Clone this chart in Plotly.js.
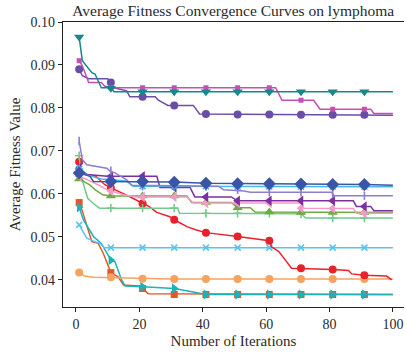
<!DOCTYPE html>
<html>
<head>
<meta charset="utf-8">
<script src="https://cdn.plot.ly/plotly-3.0.1.min.js"></script>
<style>
html,body{margin:0;padding:0;background:#fff;}
#chart{width:407px;height:356px;}
</style>
</head>
<body>
<div id="chart"></div>
<script>
// ---- data ----
var markIter = [1, 11, 21, 31, 41, 51, 61, 71, 81, 91];

// S1 teal, triangle-down
var s1x = [1, 2, 5, 6, 8, 11, 12, 100];
var s1y = [0.0965, 0.0910, 0.0882, 0.0879, 0.0847, 0.0847, 0.0838, 0.0838];
var s1m = [0.0965, 0.0846, 0.0838, 0.0838, 0.0838, 0.0838, 0.0838, 0.0838, 0.0838, 0.0838];

// S2 magenta, small square
var s2x = [1, 2, 4, 8, 9, 11, 63, 65, 75, 77, 93, 94, 100];
var s2y = [0.0910, 0.0898, 0.0859, 0.0859, 0.0851, 0.0847, 0.0847, 0.0818, 0.0818, 0.0797, 0.0797, 0.0787, 0.0787];
var s2m = [0.0910, 0.0847, 0.0847, 0.0847, 0.0847, 0.0847, 0.0847, 0.0818, 0.0797, 0.0797];

// S3 purple, circle
var s3x = [1, 2, 4, 10, 11, 12, 16, 17, 25, 26, 29, 37, 39, 100];
var s3y = [0.0890, 0.0875, 0.0868, 0.0868, 0.0859, 0.0847, 0.0840, 0.0826, 0.0826, 0.0818, 0.0806, 0.0806, 0.0786, 0.0783];
var s3m = [0.0890, 0.0859, 0.0826, 0.0806, 0.0786, 0.0785, 0.0785, 0.0784, 0.0784, 0.0784];

// S4 lavender, vertical tick
var s4x = [1, 2, 3.4, 9.7, 10.7, 12.3, 16, 17.6, 45, 46.5, 53, 55, 80.6, 81.5, 100];
var s4y = [0.0723, 0.0680, 0.0668, 0.0660, 0.0653, 0.0649, 0.0633, 0.0620, 0.0618, 0.0610, 0.0607, 0.0604, 0.0604, 0.0596, 0.0596];
var s4m = [0.0723, 0.0654, 0.0620, 0.0619, 0.0618, 0.0610, 0.0604, 0.0604, 0.0600, 0.0596];

// S5 blue, diamond
var s5x = [1, 4.4, 5.5, 31, 41, 60, 91, 100];
var s5y = [0.0649, 0.0641, 0.0629, 0.0628, 0.0625, 0.0624, 0.0622, 0.0620];
var s5m = [0.0649, 0.0629, 0.0629, 0.0627, 0.0625, 0.0624, 0.0624, 0.0623, 0.0622, 0.0622];

// S6 light blue, asterisk
var s6x = [1, 3, 8, 16, 18, 100];
var s6y = [0.0658, 0.0645, 0.0635, 0.0630, 0.0618, 0.0617];
var s6m = [0.0658, 0.0632, 0.0618, 0.0618, 0.0618, 0.0617, 0.0617, 0.0617, 0.0617, 0.0617];

// S7 dark purple, triangle-left
var s7x = [1, 3.4, 10, 25.5, 26.5, 36, 37.5, 49, 51, 87.5, 88.5, 93, 94, 100];
var s7y = [0.0660, 0.0645, 0.0641, 0.0641, 0.0615, 0.0615, 0.0593, 0.0593, 0.0584, 0.0584, 0.0571, 0.0571, 0.0561, 0.0561];
var s7m = [0.0660, 0.0641, 0.0641, 0.0615, 0.0593, 0.0584, 0.0584, 0.0584, 0.0584, 0.0571];

// S8 pink, triangle-left
var s8x = [1, 3, 7.6, 9.7, 15, 19, 35, 37, 70.8, 72, 87.5, 88.5, 100];
var s8y = [0.0641, 0.0635, 0.0619, 0.0610, 0.0598, 0.0593, 0.0593, 0.0579, 0.0579, 0.0567, 0.0566, 0.0555, 0.0555];
var s8m = [0.0641, 0.0607, 0.0593, 0.0593, 0.0579, 0.0579, 0.0579, 0.0567, 0.0566, 0.0555];

// S9 green, triangle-up
var s9x = [1, 4.2, 6, 8.4, 11, 35, 36.5, 49, 51, 55, 56.5, 100];
var s9y = [0.0635, 0.0622, 0.0610, 0.0598, 0.0595, 0.0595, 0.0580, 0.0580, 0.0568, 0.0568, 0.0558, 0.0557];
var s9m = [0.0635, 0.0595, 0.0595, 0.0595, 0.0580, 0.0568, 0.0558, 0.0557, 0.0557, 0.0557];

// S10 light green, cross
var s10x = [1, 1.6, 3.7, 5.3, 7.4, 32, 32.7, 71, 72.5, 100];
var s10y = [0.0689, 0.0641, 0.0590, 0.0579, 0.0567, 0.0567, 0.0555, 0.0554, 0.0544, 0.0544];
var s10m = [0.0689, 0.0567, 0.0567, 0.0567, 0.0555, 0.0555, 0.0555, 0.0554, 0.0544, 0.0544];

// S11 red, circle
var s11x = [1, 1.6, 6.3, 9, 11, 13.7, 15.8, 17.9, 21, 23, 25.5, 29.6, 31, 35, 38, 41, 51, 61, 61.7, 64, 66.5, 68, 81, 86, 87, 91, 98, 99.6];
var s11y = [0.0675, 0.0649, 0.0641, 0.0622, 0.0614, 0.0606, 0.0598, 0.0590, 0.0578, 0.0571, 0.0557, 0.0547, 0.0540, 0.0524, 0.0516, 0.0510, 0.0501, 0.0491, 0.0477, 0.0466, 0.0442, 0.0427, 0.0424, 0.0422, 0.0414, 0.0411, 0.0409, 0.0400];
var s11m = [0.0675, 0.0614, 0.0578, 0.0540, 0.0510, 0.0501, 0.0491, 0.0427, 0.0424, 0.0411];

// S12 sky blue, x
var s12x = [1, 2.3, 3.4, 6, 7.6, 9, 100];
var s12y = [0.0528, 0.0512, 0.0497, 0.0489, 0.0485, 0.0475, 0.0475];
var s12m = [0.0528, 0.0475, 0.0475, 0.0475, 0.0475, 0.0475, 0.0475, 0.0475, 0.0475, 0.0475];

// S13 orange, circle
var s13x = [1, 2.8, 5.5, 21, 30, 100];
var s13y = [0.0417, 0.0409, 0.0406, 0.0403, 0.0402, 0.0402];
var s13m = [0.0417, 0.0406, 0.0403, 0.0402, 0.0402, 0.0402, 0.0402, 0.0402, 0.0402, 0.0402];

// S14 orange-red, square
var s14x = [1, 2, 5, 7, 8.6, 11, 13.3, 15, 20, 21, 22.8, 100];
var s14y = [0.0580, 0.0560, 0.0489, 0.0485, 0.0462, 0.0417, 0.0407, 0.0388, 0.0386, 0.0380, 0.0368, 0.0366];
var s14m = [0.0580, 0.0417, 0.0380, 0.0366, 0.0366, 0.0366, 0.0366, 0.0366, 0.0366, 0.0366];

// S15 cyan, triangle-right
var s15x = [1, 2.3, 5.5, 8, 11, 12.3, 14.4, 15.5, 21, 31, 37, 41, 100];
var s15y = [0.0569, 0.0540, 0.0501, 0.0485, 0.0446, 0.0442, 0.0400, 0.0386, 0.0384, 0.0380, 0.0372, 0.0366, 0.0366];
var s15m = [0.0569, 0.0446, 0.0384, 0.0380, 0.0366, 0.0366, 0.0366, 0.0366, 0.0366, 0.0366];

var xTicks = [0, 20, 40, 60, 80, 100];
var yTicks = [0.04, 0.05, 0.06, 0.07, 0.08, 0.09, 0.10];
var yTickText = ['0.04', '0.05', '0.06', '0.07', '0.08', '0.09', '0.10'];

// ---- styles ----
var series = [
  {x: s14x, y: s14y, m: s14m, color: '#e0592b', sym: 'square', size: 7},
  {x: s15x, y: s15y, m: s15m, color: '#1fb1b8', sym: 'triangle-right', size: 9},
  {x: s13x, y: s13y, m: s13m, color: '#f5a35f', sym: 'circle', size: 8},
  {x: s12x, y: s12y, m: s12m, color: '#5cc3ee', sym: 'x-thin-open', size: 6, open: true},
  {x: s11x, y: s11y, m: s11m, color: '#e8222a', sym: 'circle', size: 8},
  {x: s10x, y: s10y, m: s10m, color: '#74c98c', sym: 'cross-thin-open', size: 6, open: true},
  {x: s9x, y: s9y, m: s9m, color: '#6bab3f', sym: 'triangle-up', size: 9},
  {x: s8x, y: s8y, m: s8m, color: '#f39bc8', sym: 'triangle-left', size: 9},
  {x: s7x, y: s7y, m: s7m, color: '#7b30a2', sym: 'triangle-left', size: 9},
  {x: s6x, y: s6y, m: s6m, color: '#48b6e6', sym: 'asterisk-open', size: 7, open: true},
  {x: s4x, y: s4y, m: s4m, color: '#8b7fd0', sym: 'line-ns-open', size: 6, open: true},
  {x: s5x, y: s5y, m: s5m, color: '#3a55a5', sym: 'diamond', size: 10},
  {x: s3x, y: s3y, m: s3m, color: '#6a4ea6', sym: 'circle', size: 8},
  {x: s2x, y: s2y, m: s2m, color: '#c44fb5', sym: 'square', size: 5},
  {x: s1x, y: s1y, m: s1m, color: '#17878b', sym: 'triangle-down', size: 9}
];

var traces = [];
series.forEach(function (s) {
  traces.push({
    type: 'scatter', mode: 'lines', x: s.x, y: s.y,
    line: {color: s.color, width: 1.5}, hoverinfo: 'skip', showlegend: false
  });
  var mk = {symbol: s.sym, size: s.size, color: s.color};
  if (s.open) { mk.line = {color: s.color, width: 1.6}; }
  traces.push({
    type: 'scatter', mode: 'markers', x: markIter, y: s.m,
    marker: mk, hoverinfo: 'skip', showlegend: false
  });
});

var fontFam = '"Liberation Serif", "Times New Roman", serif';
var txt = '#2a2a2a';
layout = {
  width: 407, height: 356,
  margin: {l: 63, r: 3, t: 22, b: 49},
  paper_bgcolor: '#fff', plot_bgcolor: '#fff',
  font: {family: fontFam, color: txt, size: 14},
  title: {text: 'Average Fitness Convergence Curves on lymphoma',
          font: {family: fontFam, size: 15.5, color: txt},
          x: 0.573, xanchor: 'center', y: 0.971, yanchor: 'middle'},
  xaxis: {
    range: [-4.1, 103.5], tickvals: xTicks, ticks: 'outside', ticklen: 4,
    tickcolor: '#222', linecolor: '#222', linewidth: 1.2, showline: true,
    mirror: true, showgrid: false, zeroline: false,
    tickfont: {family: fontFam, size: 14, color: txt},
    title: {text: 'Number of Iterations', font: {family: fontFam, size: 15, color: txt}, standoff: 4}
  },
  yaxis: {
    range: [0.0337, 0.1], tickvals: yTicks, ticktext: yTickText, ticks: 'outside', ticklen: 4,
    tickcolor: '#222', linecolor: '#222', linewidth: 1.2, showline: true,
    mirror: false, showgrid: false, zeroline: false,
    tickfont: {family: fontFam, size: 14, color: txt},
    title: {text: 'Average Fitness Value', font: {family: fontFam, size: 15, color: txt}, standoff: 6}
  }
};

Plotly.newPlot('chart', traces, layout, {staticPlot: true, displayModeBar: false});
</script>
</body>
</html>
